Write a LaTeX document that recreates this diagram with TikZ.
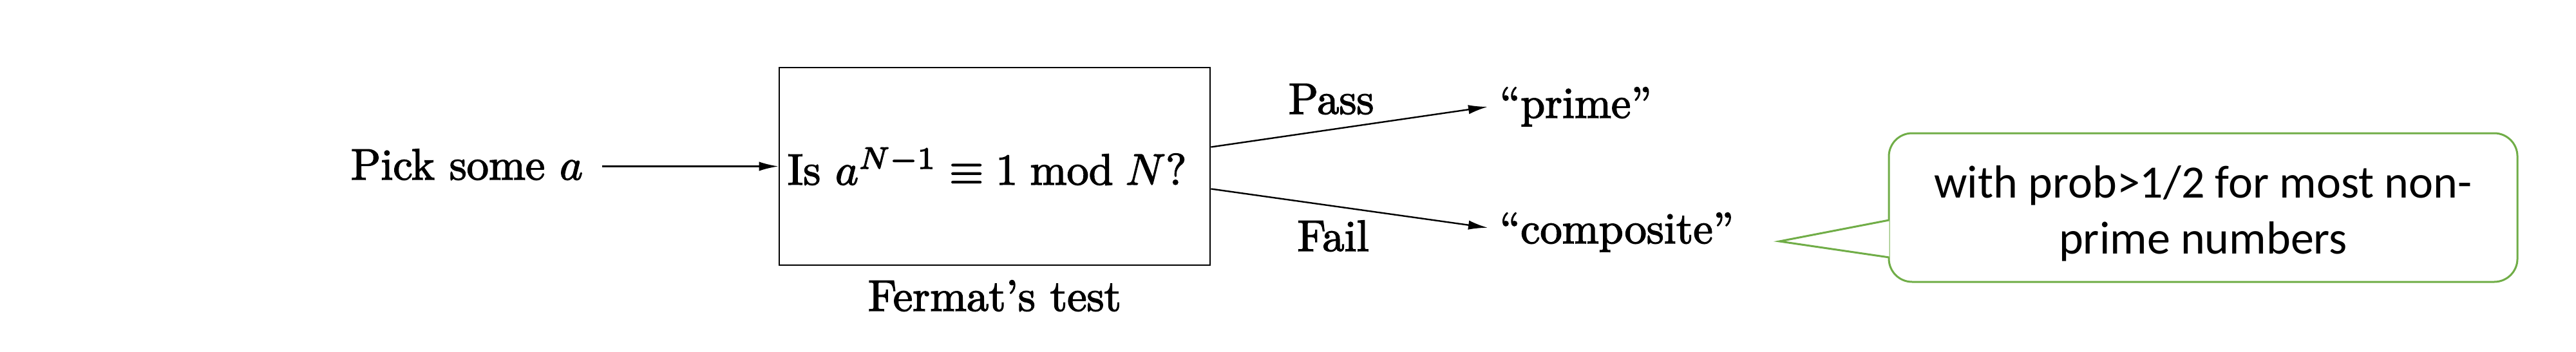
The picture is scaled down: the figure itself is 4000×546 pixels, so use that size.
\documentclass[tikz,border=0pt]{standalone}
\usepackage{fontspec}
\newfontfamily\calibri{Carlito}
\usetikzlibrary{arrows.meta,calc}
\definecolor{calloutgreen}{RGB}{112,173,71}
\newcommand{\sctext}[1]{\scalebox{1.71}{\special{pdf:literal direct 2 Tr 0.22 w}\fontsize{10}{12}\selectfont #1\special{pdf:literal direct 0 Tr}}}
\begin{document}
\begin{tikzpicture}[x=0.25pt,y=-0.25pt,
  lbl/.style={inner sep=0pt},
  conn/.style={line width=0.6pt, -{Latex[length=7.5pt,width=3.6pt]}},
  testbox/.style={draw, line width=0.7pt, minimum width=167.25pt, minimum height=76.75pt, inner sep=0pt},
  notebox/.style={draw=calloutgreen, line width=0.75pt, rounded corners=9pt, minimum width=244pt, minimum height=57.75pt, fill=white},
  pointer/.style={fill=white, draw=calloutgreen, line width=0.75pt},
  notetext/.style={align=center, inner sep=0pt, font=\calibri\fontsize{18}{21.7}\selectfont}
]
\useasboundingbox (0,0) rectangle (4000,546);
% Fermat test box
\node[testbox] (test) at (1544.5,258.5) {\sctext{Is $a^{N-1}\equiv 1 \bmod N$?}\hspace*{6pt}};
\node[lbl, anchor=base] (fermat) at (1544.5,483) {\sctext{Fermat's test}};
% input
\node[lbl, anchor=base east, inner xsep=7.25pt] (pick) at (935,279) {\sctext{Pick some $a$}};
\draw[conn] (pick.east |- test.west) -- (test.west);
% outputs
\node[lbl, anchor=base west, inner xsep=4.5pt] (prime) at (2310,183) {\sctext{``prime''}};
\node[lbl, anchor=base west, inner xsep=4.5pt] (comp) at (2310,378) {\sctext{``composite''}};
\draw[conn] ($(test.east)+(0,-30)$) -- (prime.west);
\draw[conn] ($(test.east)+(0,35)$) -- ($(comp.west)+(0,-7)$);
\node[lbl, anchor=base] (pass) at (2067,177) {\sctext{Pass}};
\node[lbl, anchor=base] (fail) at (2070,390) {\sctext{Fail}};
% callout
\node[notebox] (note) at (3421,322.5) {};
\coordinate (tip) at (2763,375);
\filldraw[pointer] ($(note.west)+(2,19.5)$) -- (tip) -- ($(note.west)+(2,77.5)$);
\node[notetext] (notetxt) at (3421,331.5) {with prob>1/2 for most non-\\prime numbers};
\end{tikzpicture}
\end{document}
